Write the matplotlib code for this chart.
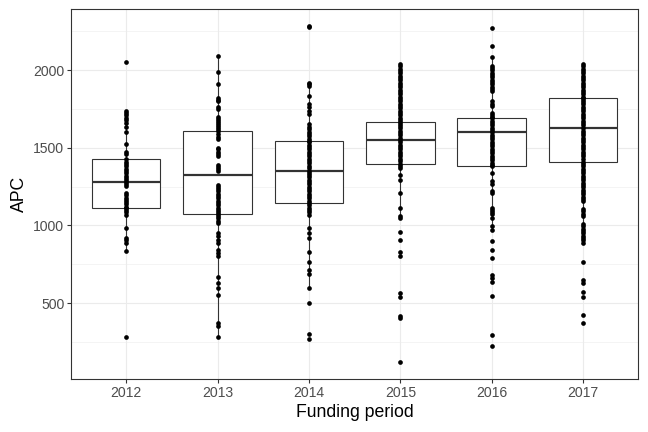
import matplotlib
matplotlib.use('Agg')
import matplotlib.pyplot as plt

plt.rcParams['font.family'] = ['Liberation Sans', 'DejaVu Sans']

years = ['2012', '2013', '2014', '2015', '2016', '2017']

apc_2012 = [2050, 1737, 1727, 1711, 1694, 1677, 1657, 1636, 1601, 1526, 1472, 1463,
            1425, 1410, 1395, 1380, 1365, 1350, 1335, 1320, 1305, 1290, 1280, 1270,
            1255, 1210, 1195, 1180, 1165, 1150, 1135, 1120, 1110, 1100, 1085, 1070,
            983, 918, 907, 886, 838, 282]
apc_2013 = [2092, 1989, 1909, 1819, 1810, 1802, 1765, 1748, 1696, 1685, 1672, 1660,
            1648, 1635, 1620, 1608, 1586, 1570, 1554, 1502, 1490, 1475, 1460, 1446,
            1392, 1378, 1363, 1349, 1263, 1250, 1235, 1220, 1205, 1190, 1175, 1160,
            1145, 1130, 1115, 1100, 1085, 1073, 1060, 1045, 1030, 1015, 951, 930,
            908, 886, 843, 822, 800, 666, 627, 595, 552, 369, 351, 282]
apc_2014 = [2286, 2276, 1920, 1910, 1899, 1834, 1780, 1760, 1738, 1716, 1651, 1635,
            1620, 1605, 1590, 1575, 1560, 1547, 1535, 1520, 1505, 1490, 1475, 1460,
            1445, 1430, 1415, 1400, 1385, 1370, 1353, 1340, 1325, 1310, 1295, 1280,
            1265, 1250, 1235, 1220, 1205, 1190, 1175, 1160, 1145, 1130, 1115, 1100,
            1085, 1069, 983, 951, 918, 832, 767, 713, 686, 595, 498, 298, 267]
apc_2015 = [2040, 2025, 2010, 1995, 1980, 1965, 1950, 1935, 1920, 1905, 1890, 1875,
            1860, 1845, 1830, 1815, 1800, 1785, 1770, 1755, 1740, 1725, 1710, 1695,
            1680, 1668, 1655, 1640, 1625, 1610, 1595, 1580, 1565, 1551, 1535, 1520,
            1505, 1490, 1475, 1460, 1445, 1430, 1415, 1399, 1385, 1370, 1328, 1295,
            1209, 1112, 1064, 1047, 961, 907, 832, 804, 563, 541, 416, 401, 121]
apc_2016 = [2269, 2157, 2082, 2028, 2015, 2000, 1985, 1970, 1955, 1940, 1925, 1910,
            1895, 1880, 1866, 1802, 1785, 1769, 1726, 1712, 1698, 1690, 1675, 1660,
            1645, 1630, 1615, 1601, 1585, 1570, 1555, 1540, 1525, 1510, 1495, 1480,
            1465, 1450, 1435, 1420, 1405, 1392, 1381, 1339, 1285, 1270, 1220, 1209,
            1112, 1100, 1088, 1075, 1050, 998, 968, 903, 843, 789, 681, 660, 638,
            547, 293, 222]
apc_2017 = [2040, 2025, 2010, 1995, 1980, 1965, 1950, 1935, 1920, 1905, 1890, 1875,
            1860, 1845, 1830, 1821, 1810, 1795, 1780, 1765, 1750, 1735, 1720, 1705,
            1690, 1675, 1660, 1645, 1625, 1610, 1595, 1580, 1565, 1550, 1535, 1520,
            1505, 1490, 1475, 1460, 1445, 1430, 1408, 1395, 1380, 1365, 1350, 1335,
            1320, 1305, 1290, 1275, 1260, 1245, 1230, 1215, 1200, 1185, 1170, 1155,
            1105, 1090, 1075, 1060, 1010, 995, 980, 965, 950, 935, 920, 905, 890,
            763, 649, 627, 574, 541, 423, 369]

series = [apc_2012, apc_2013, apc_2014, apc_2015, apc_2016, apc_2017]

# box statistics
q1 = [1110, 1073, 1145, 1399, 1385, 1408]
med = [1280, 1328, 1353, 1551, 1601, 1625]
q3 = [1425, 1608, 1547, 1668, 1690, 1821]
whislo = [838, 282, 595, 1047, 968, 886]
whishi = [1737, 2092, 1920, 2040, 2082, 2040]

fig = plt.figure(figsize=(9, 6), dpi=72)
ax = fig.add_axes([0.110, 0.1234, 0.8746, 0.8557])

dark = '#333333'
positions = list(range(1, len(years) + 1))
stats = [dict(label=y, q1=a, med=m, q3=b, whislo=lo, whishi=hi, fliers=[])
         for y, a, m, b, lo, hi in zip(years, q1, med, q3, whislo, whishi)]
ax.bxp(stats, positions=positions, widths=0.75, showcaps=False, patch_artist=True,
       boxprops=dict(facecolor='white', edgecolor=dark, linewidth=1.1),
       whiskerprops=dict(color=dark, linewidth=1.1),
       medianprops=dict(color=dark, linewidth=2.2), zorder=2)

for p, vals in zip(positions, series):
    ax.scatter([p] * len(vals), vals, s=22, color='black', linewidths=0, zorder=3)

allv = [v for s in series for v in s]
lo, hi = min(allv), max(allv)
rng = hi - lo
ax.set_ylim(lo - 0.05 * rng, hi + 0.05 * rng)
ax.set_xlim(0.4, len(years) + 0.6)

ax.set_xticks(positions)
ax.set_xticklabels(years)
ax.set_yticks([500, 1000, 1500, 2000])
ax.set_yticks([250, 750, 1250, 1750, 2250], minor=True)

ax.set_axisbelow(True)
ax.grid(which='major', color='#EBEBEB', linewidth=1.1)
ax.grid(which='minor', axis='y', color='#EBEBEB', linewidth=0.55)

for s in ax.spines.values():
    s.set_color(dark)
    s.set_linewidth(1.1)

ax.tick_params(which='major', length=4, width=1.1, color=dark, labelcolor='#4D4D4D',
               labelsize=14, pad=3)
ax.tick_params(which='minor', length=0)

ax.set_xlabel('Funding period', fontsize=17.6, color='black', labelpad=4)
ax.set_ylabel('APC', fontsize=17.6, color='black', labelpad=5)

fig.savefig('out.png', dpi=72)
